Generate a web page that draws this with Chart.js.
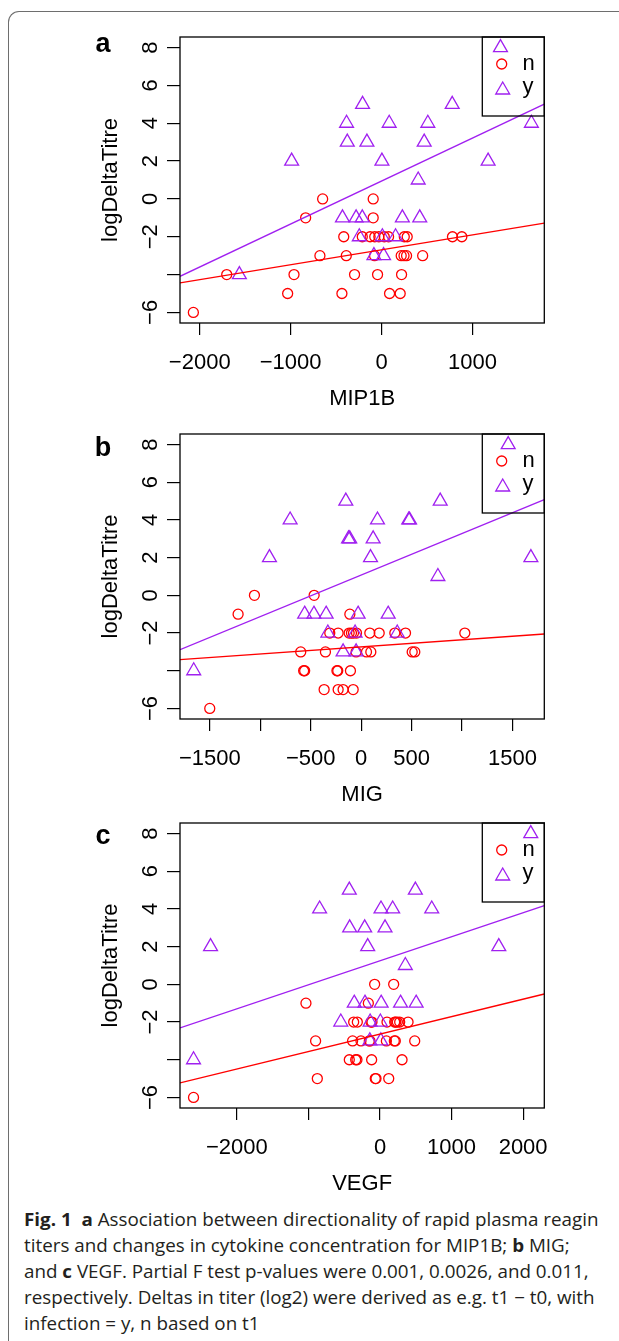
<!DOCTYPE html>
<html lang="en">
<head>
  <meta charset="UTF-8" />
  <title>Fig. 1 - titre change vs cytokine change</title>
  <script src="https://cdn.jsdelivr.net/npm/chart.js@4"></script>
  <style>
    body {
      margin: 0;
      width: 619px;
      height: 1341px;
      position: relative;
      overflow: hidden;
      background: #fff;
    }
    .frame {
      position: absolute;
      left: 8px;
      top: 11px;
      width: 700px;
      height: 1400px;
      border-left: 1.6px solid #6e6e6e;
      border-top: 1.6px solid #6e6e6e;
      border-top-left-radius: 11px;
    }
    canvas { position: absolute; left: 0; }
    .caption {
      position: absolute;
      left: 23.5px;
      top: 1206px;
      font-family: 'Open Sans', 'Noto Sans', sans-serif;
      font-size: 17.5px;
      line-height: 26px;
      color: #231f20;
    }
    .caption div { white-space: nowrap; transform-origin: 0 50%; width: max-content; }
  </style>
</head>
<body>
  <div class="frame"></div>
  <canvas id="panelA" width="619" height="413" style="top:0px"></canvas>
  <canvas id="panelB" width="619" height="396" style="top:413px"></canvas>
  <canvas id="panelC" width="619" height="389" style="top:809px"></canvas>
  <div class="caption">
    <div><b>Fig. 1</b>&nbsp; <b>a</b> Association between directionality of rapid plasma reagin</div>
    <div>titers and changes in cytokine concentration for MIP1B; <b>b</b> MIG;</div>
    <div>and <b>c</b> VEGF. Partial F test p-values were 0.001, 0.0026, and 0.011,</div>
    <div>respectively. Deltas in titer (log2) were derived as e.g. t1 − t0, with</div>
    <div>infection = y, n based on t1</div>
  </div>

  <script>
    const RED = '#FF0000';
    const PURPLE = '#A020F0';
    const FONT = '"Liberation Sans", Arial, Helvetica, sans-serif';

    // shared y axis (log2 change in titre)
    const yTicks = [-6, -4, -2, 0, 2, 4, 6, 8];
    const yTickLabels = ['−6', '', '−2', '0', '2', '4', '6', '8'];
    const yRange = [-6.56, 8.56];

    // panel a: MIP1B
    const aXTicks = [-2000, -1000, 0, 1000];
    const aXTickLabels = ['−2000', '−1000', '0', '1000'];
    const aXRange = [-2217, 1790];
    const aNx = [-648, -92, -835, -92,
      -416, -212, -126, -75, -30, 30, 77, 250, 282, 780, 883,
      -678, -388, -77, 216, 247, 275, 452,
      -1703, -963, -297, -44, 220,
      -1033, -436, 88, 205,
      -2070];
    const aNy = [0, 0, -1, -1,
      -2, -2, -2, -2, -2, -2, -2, -2, -2, -2, -2,
      -3, -3, -3, -3, -3, -3, -3,
      -4, -4, -4, -4, -4,
      -5, -5, -5, -5,
      -6];
    const aYx = [1308, -209, 777, -385, 84, 509, 1648, -377, -161, 469, -989, 4, 1172, 403,
      -430, -280, -212, 229, 420, -245, 9, 154, -84, 22, -1564];
    const aYy = [8, 5, 5, 4, 4, 4, 4, 3, 3, 3, 2, 2, 2, 1,
      -1, -1, -1, -1, -1, -2, -2, -2, -3, -3, -4];
    const aFitN = [-4.44, -1.28];
    const aFitY = [-4.09, 5.01];

    // panel b: MIG
    const bXTicks = [-1500, -1000, -500, 0, 500, 1000, 1500];
    const bXTickLabels = ['−1500', '', '−500', '0', '500', '', '1500'];
    const bXRange = [-1796, 1816];
    const bNx = [-1058, -466, -1220, -112,
      -311, -228, -119, -96, -76, -46, 86, 179, 334, 440, 1028,
      -599, -354, -50, 53, 96, 506, 532,
      -570, -560, -240, -232, -106,
      -367, -228, -179, -79,
      -1501];
    const bNy = aNy;
    const bYx = [1458, -152, 784, -704, 162, 472, 480, -125, -113, 119, -909, 93, 1683, 761,
      -560, -468, -347, -30, 268, -330, -60, 358, -179, -50, -1660];
    const bYy = aYy;
    const bFitN = [-3.41, -2.05];
    const bFitY = [-2.88, 5.08];

    // panel c: VEGF
    const cXTicks = [-2000, -1000, 0, 1000, 2000];
    const cXTickLabels = ['−2000', '', '0', '1000', '2000'];
    const cXRange = [-2795, 2296];
    const cNx = [-75, 191, -1035, -163,
      -368, -317, -126, -112, 98, 205, 219, 242, 275, 392,
      -900, -383, -266, -150, -140, 89, 200, 214, 485,
      -429, -340, -322, -117, 308,
      -876, -66, -56, 122,
      -2606];
    const cNy = [0, 0, -1, -1,
      -2, -2, -2, -2, -2, -2, -2, -2, -2, -2,
      -3, -3, -3, -3, -3, -3, -3, -3, -3,
      -4, -4, -4, -4, -4,
      -5, -5, -5, -5,
      -6];
    const cYx = [2107, -429, 494, -844, 14, 177, 723, -424, -214, 70, -2368, -172, 1660, 354,
      -360, -210, 16, 287, 505, -548, -138, 5, -142, 12, -2606];
    const cYy = aYy;
    const cFitN = [-5.23, -0.51];
    const cFitY = [-2.31, 4.18];

    const CIRCLE_R = 5;
    const TRI_R = 8;

    const pts = (xs, ys) => xs.map((x, i) => ({ x, y: ys[i] }));

    // box, rotated y tick labels, panel letter and the in-plot legend (R style)
    const rDecor = {
      id: 'rDecor',
      afterDraw(chart, args, opts) {
        const { ctx, chartArea: ca, scales: { y } } = chart;
        ctx.save();
        ctx.strokeStyle = '#000';
        ctx.lineWidth = 1.3;
        ctx.strokeRect(ca.left, ca.top, ca.right - ca.left, ca.bottom - ca.top);

        ctx.fillStyle = '#000';
        ctx.font = '22px ' + FONT;
        ctx.textAlign = 'center';
        ctx.textBaseline = 'middle';
        yTicks.forEach((v, i) => {
          if (!yTickLabels[i]) return;
          ctx.save();
          ctx.translate(ca.left - 30, y.getPixelForValue(v));
          ctx.rotate(-Math.PI / 2);
          ctx.fillText(yTickLabels[i], 0, 1);
          ctx.restore();
        });

        ctx.font = 'bold 27px ' + FONT;
        ctx.textBaseline = 'alphabetic';
        ctx.fillText(opts.letter, 103, opts.letterY);

        // legend: transparent box in the top right corner
        const lx = 482.3, lh = 79;
        ctx.lineWidth = 1.3;
        ctx.strokeRect(lx, ca.top, ca.right - lx, lh);
        ctx.fillStyle = 'rgba(0,0,0,0)';
        ctx.strokeStyle = RED;
        Chart.helpers.drawPoint(ctx, { pointStyle: 'circle', radius: CIRCLE_R, borderWidth: 1.3 }, 501.7, ca.top + 27);
        ctx.strokeStyle = PURPLE;
        Chart.helpers.drawPoint(ctx, { pointStyle: 'triangle', radius: TRI_R, borderWidth: 1.3 }, 502.7, ca.top + 53);
        ctx.fillStyle = '#000';
        ctx.font = '22px ' + FONT;
        ctx.textAlign = 'left';
        ctx.textBaseline = 'middle';
        ctx.fillText('n', 522.5, ca.top + 27);
        ctx.fillText('y', 522.5, ca.top + 50);
        ctx.restore();
      }
    };

    function makePanel(id, cfg) {
      const canvas = document.getElementById(id);
      new Chart(canvas, {
        type: 'scatter',
        data: {
          datasets: [
            {
              type: 'line',
              data: [{ x: cfg.xRange[0], y: cfg.fitN[0] }, { x: cfg.xRange[1], y: cfg.fitN[1] }],
              borderColor: RED, borderWidth: 1.4, pointRadius: 0, fill: false, order: 0
            },
            {
              type: 'line',
              data: [{ x: cfg.xRange[0], y: cfg.fitY[0] }, { x: cfg.xRange[1], y: cfg.fitY[1] }],
              borderColor: PURPLE, borderWidth: 1.4, pointRadius: 0, fill: false, order: 0
            },
            {
              data: pts(cfg.nx, cfg.ny),
              pointStyle: 'circle', pointRadius: CIRCLE_R, borderWidth: 1.3,
              borderColor: RED, backgroundColor: 'rgba(0,0,0,0)', order: 2
            },
            {
              data: pts(cfg.yx, cfg.yy),
              pointStyle: 'triangle', pointRadius: TRI_R, borderWidth: 1.3,
              borderColor: PURPLE, backgroundColor: 'rgba(0,0,0,0)', order: 1
            }
          ]
        },
        options: {
          responsive: false,
          animation: false,
          events: [],
          layout: { padding: { top: cfg.padTop, right: 74.7, left: 0, bottom: 0 } },
          plugins: {
            legend: { display: false },
            tooltip: { enabled: false },
            rDecor: { letter: cfg.letter, letterY: cfg.letterY }
          },
          scales: {
            x: {
              type: 'linear',
              min: cfg.xRange[0],
              max: cfg.xRange[1],
              afterBuildTicks: s => { s.ticks = cfg.xTicks.map(v => ({ value: v })); },
              afterFit: s => { s.height = 90; },
              ticks: {
                callback: v => cfg.xLabels[cfg.xTicks.indexOf(v)],
                font: { family: FONT, size: 22 },
                color: '#000',
                padding: 15,
                maxRotation: 0,
                autoSkip: false
              },
              grid: { drawOnChartArea: false, drawTicks: true, tickLength: 12, color: '#000', lineWidth: 1.2 },
              border: { display: false },
              title: {
                display: true, text: cfg.title, color: '#000',
                font: { family: FONT, size: 22, lineHeight: 1 },
                padding: { top: 0, bottom: 3 }
              }
            },
            y: {
              type: 'linear',
              min: yRange[0],
              max: yRange[1],
              afterBuildTicks: s => { s.ticks = yTicks.map(v => ({ value: v })); },
              afterFit: s => { s.width = 180; },
              ticks: { display: false },
              grid: { drawOnChartArea: false, drawTicks: true, tickLength: 13, color: '#000', lineWidth: 1.2 },
              border: { display: false },
              title: {
                display: true, text: 'logDeltaTitre', color: '#000',
                font: { family: FONT, size: 22, lineHeight: 1 },
                padding: { top: 99.5, bottom: 0 }
              }
            }
          }
        },
        plugins: [rDecor]
      });
    }

    makePanel('panelA', {
      letter: 'a', letterY: 52, padTop: 37, title: 'MIP1B',
      xTicks: aXTicks, xLabels: aXTickLabels, xRange: aXRange,
      nx: aNx, ny: aNy, yx: aYx, yy: aYy, fitN: aFitN, fitY: aFitY
    });
    makePanel('panelB', {
      letter: 'b', letterY: 43, padTop: 21, title: 'MIG',
      xTicks: bXTicks, xLabels: bXTickLabels, xRange: bXRange,
      nx: bNx, ny: bNy, yx: bYx, yy: bYy, fitN: bFitN, fitY: bFitY
    });
    makePanel('panelC', {
      letter: 'c', letterY: 35, padTop: 14, title: 'VEGF',
      xTicks: cXTicks, xLabels: cXTickLabels, xRange: cXRange,
      nx: cNx, ny: cNy, yx: cYx, yy: cYy, fitN: cFitN, fitY: cFitY
    });

    // squeeze the caption uniformly so its first line spans the same width as in the figure
    const capLines = document.querySelectorAll('.caption div');
    const squeeze = 574.5 / capLines[0].getBoundingClientRect().width;
    capLines.forEach(d => { d.style.transform = 'scaleX(' + squeeze + ')'; });
  </script>
</body>
</html>
